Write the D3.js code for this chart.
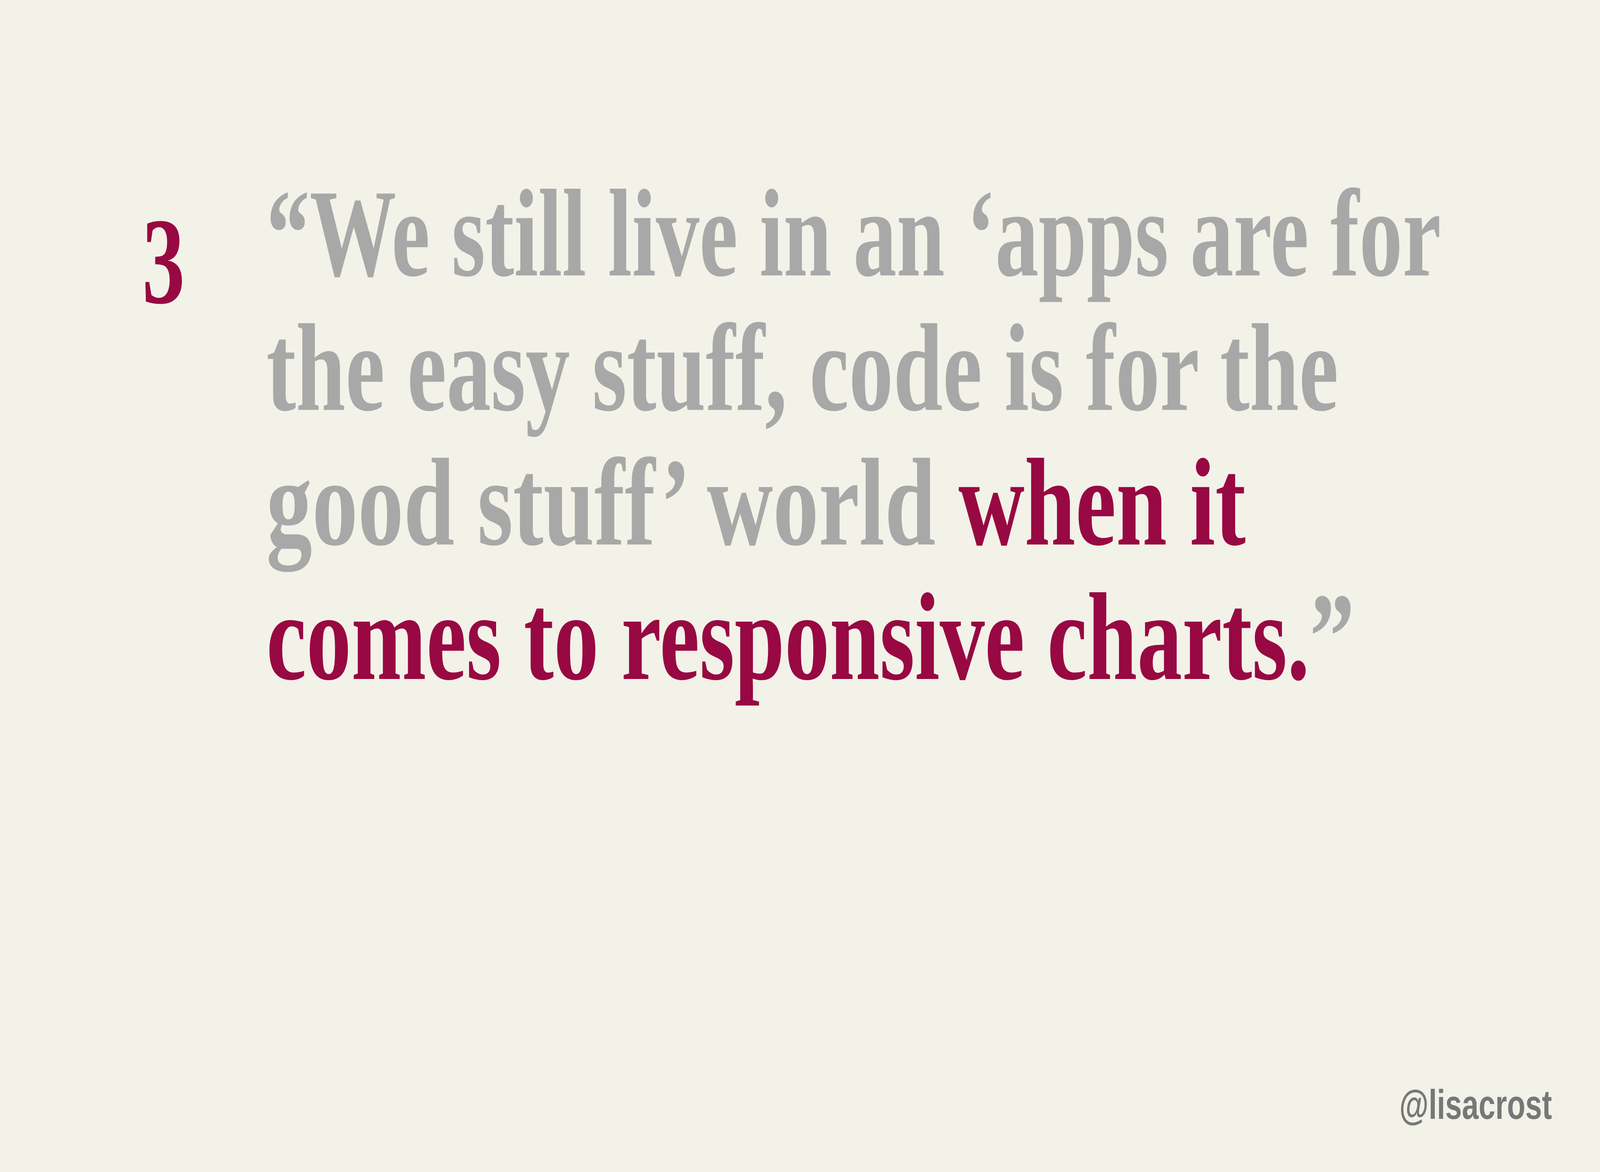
<!DOCTYPE html>
<html>
<head>
<meta charset="utf-8">
<script src="https://cdn.jsdelivr.net/npm/d3@7"></script>
<style>
  html, body { margin: 0; padding: 0; background: #f2f2e8; overflow: hidden; }
  svg { display: block; }
</style>
</head>
<body>
<svg id="slide"></svg>
<script>
// Texte du slide, ligne par ligne
const slideNumber = "3";
const leadParts      = ["“We still live in an ‘apps are for", "the easy stuff, code is for the", "good stuff’ world ", ""];
const highlightParts = ["", "", "when it", "comes to responsive charts."];
const trailParts     = ["", "", "", "”"];
const handle = "@lisacrost";

// Le dessin se fait en 5334x3000 puis s'adapte à la fenêtre
const W = 5334, H = 3000;
const grey = "#a8a8a8", crimson = "#980842";

// Bord droit de chaque ligne dans le slide d'origine (mise en page)
const lineRight = [4804, 4462, 4153, 4516];

const svg = d3.select("#slide")
    .attr("width", window.innerWidth)
    .attr("height", window.innerHeight)
    .attr("viewBox", "0 0 " + W + " " + H)
    .attr("preserveAspectRatio", "none");
svg.append("rect").attr("width", W).attr("height", H).attr("fill", "#f2f2e8");

// Position verticale des lignes
const yScale = d3.scaleLinear()
    .domain([0, leadParts.length - 1])
    .range([705, 1738]);

const x0 = 888;
const fontSize = 320;

const lines = svg.selectAll("text.line")
    .data(d3.range(leadParts.length))
    .enter()
    .append("text")
    .attr("class", "line")
    .attr("font-family", "'Liberation Serif', 'Times New Roman', serif")
    .attr("font-weight", "bold")
    .attr("font-size", fontSize);

lines.append("tspan").attr("fill", grey).text(i => leadParts[i]);
lines.append("tspan").attr("fill", crimson).text(i => highlightParts[i]);
lines.append("tspan").attr("fill", grey).text(i => trailParts[i]);

// La police d'origine est plus étroite : on resserre chaque ligne
lines.attr("transform", function(i) {
    const w = this.getComputedTextLength();
    const sx = w > 0 ? (lineRight[i] - x0) / w : 0.9;
    return "translate(" + x0 + "," + yScale(i) + ") scale(" + sx + ",1)";
});

// Numéro du slide
svg.append("text")
    .attr("transform", "translate(474,775) scale(0.9,1)")
    .attr("font-family", "'Liberation Serif', 'Times New Roman', serif")
    .attr("font-weight", "bold")
    .attr("font-size", 316)
    .attr("fill", crimson)
    .text(slideNumber);

// Signature
svg.append("text")
    .attr("x", 4665)
    .attr("y", 2864)
    .attr("font-family", "'Liberation Sans', Arial, sans-serif")
    .attr("font-weight", "bold")
    .attr("font-size", 106)
    .attr("fill", "#777777")
    .attr("textLength", 509)
    .attr("lengthAdjust", "spacingAndGlyphs")
    .text(handle);
</script>
</body>
</html>
